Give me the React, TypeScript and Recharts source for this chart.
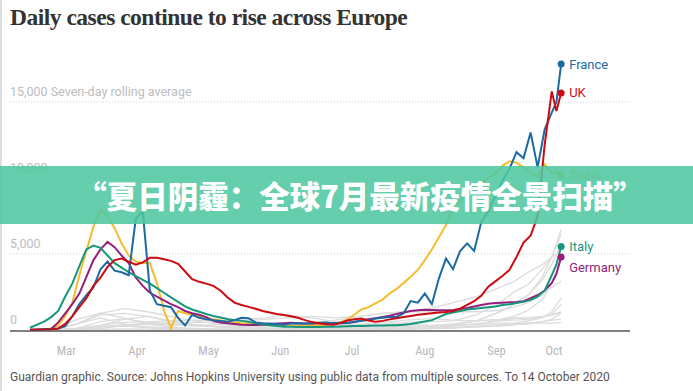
import React from 'react';
import { LineChart, Line, XAxis, YAxis, ReferenceLine } from 'recharts';

// days since 1 March 2020 (day 0 = 1 Mar)
const days = [
  0, 3, 6, 9, 12, 15, 18, 21, 24, 27,
  30, 33, 36, 39, 42, 45, 48, 51, 54, 57,
  60, 63, 66, 69, 72, 75, 78, 81, 84, 87,
  90, 93, 96, 99, 102, 105, 108, 111, 114, 117,
  120, 123, 126, 129, 132, 135, 138, 141, 144, 147,
  150, 153, 156, 159, 162, 165, 168, 171, 174, 177,
  180, 183, 186, 189, 192, 195, 198, 201, 204, 207,
  210, 213, 216, 219, 222, 224, 226,
];

const france = [
  20, 30, 50, 70, 100, 250, 900, 1700, 2300, 2800,
  4000, 4500, 3900, 3800, 3600, 7300, 7800, 2600, 1700, 1600,
  1500, 800, 300, 1000, 800, 700, 650, 600, 550, 650,
  800, 780, 500, 450, 420, 400, 350, 420, 450, 430,
  450, 480, 500, 450, 480, 460, 550, 600, 650, 750,
  800, 850, 860, 1100, 1900, 1800, 2400, 1700, 3400, 4700,
  4000, 5200, 5700, 5200, 7100, 7800, 8800, 9800, 10600, 11700,
  11300, 13000, 10700, 13200, 14300, 15000, 17500,
];

const uk = [
  10, 15, 30, 50, 90, 400, 900, 1500, 2100, 2900,
  3450, 4150, 4600, 4700, 4500, 4300, 4450, 4750, 4750, 4650,
  4550, 4350, 3850, 3350, 3170, 3050, 2900, 2600, 2150, 1800,
  1650, 1520, 1400, 1250, 1150, 1050, 980, 900, 800, 650,
  520, 450, 380, 340, 450, 620, 700, 750, 620, 540,
  600, 700, 780, 850, 920, 1000, 1050, 1100, 1150, 1180,
  1250, 1400, 1650, 1900, 2250, 2850, 3200, 3550, 3950, 4800,
  5750, 6200, 7500, 12200, 15700, 14400, 15600,
];

const spain = [
  10, 20, 40, 100, 300, 900, 1800, 3600, 5200, 6800,
  7900, 7500, 6700, 5700, 4900, 4500, 4400, 4400, 3100, 1300,
  100, 1250, 1100, 1000, 900, 800, 700, 650, 550, 500,
  450, 420, 400, 380, 350, 330, 300, 300, 300, 300,
  300, 320, 350, 420, 500, 700, 1000, 1350, 1500, 1750,
  2000, 2400, 2700, 3100, 3500, 3950, 4600, 5300, 6100, 6900,
  8100, 8500, 8900, 9300, 9700, 10000, 10300, 10800, 11100, 11000,
  10700, 10300, 10100, 10900, 10300, 10400, 10200,
];

const italy = [
  150, 350, 550, 850, 1250, 2200, 3050, 4200, 5300, 5550,
  5400, 4900, 4400, 4100, 3800, 3550, 3300, 3050, 2750, 2450,
  2150, 1850, 1550, 1350, 1200, 1050, 920, 820, 720, 650,
  600, 540, 450, 370, 320, 260, 220, 210, 200, 200,
  190, 200, 210, 220, 230, 250, 260, 270, 280, 290,
  300, 310, 320, 350, 400, 480, 560, 650, 850, 1050,
  1150, 1250, 1350, 1400, 1450, 1500, 1550, 1650, 1700, 1780,
  1850, 1980, 2200, 2600, 3600, 4300, 5500,
];

const germany = [
  0, 10, 30, 60, 500, 1100, 1700, 2400, 3500, 4600,
  5300, 5800, 5450, 4900, 4400, 3450, 2900, 2450, 2200, 1950,
  1700, 1500, 1250, 1100, 1000, 850, 600, 500, 450, 400,
  350, 330, 330, 350, 380, 420, 450, 470, 450, 420,
  430, 450, 450, 460, 450, 460, 520, 620, 700, 780,
  860, 940, 1050, 1150, 1250, 1300, 1330, 1320, 1300, 1300,
  1320, 1380, 1450, 1550, 1650, 1720, 1780, 1800, 1820, 1850,
  1900, 2100, 2300, 2600, 3100, 3700, 4800,
];

// other European countries, drawn in grey
const greyDays = [0, 10, 20, 30, 40, 50, 60, 70, 80, 90, 100, 110, 120, 130, 140, 150, 160, 170, 180, 190, 200, 206, 212, 218, 222, 226];
const belgium = [0, 50, 400, 1100, 1400, 1200, 900, 600, 400, 250, 150, 100, 100, 120, 250, 500, 400, 300, 350, 600, 1200, 1700, 2300, 3300, 4300, 5600];
const netherlands = [0, 20, 400, 1000, 1100, 900, 550, 350, 200, 150, 100, 60, 60, 80, 150, 350, 500, 550, 600, 1000, 1800, 2500, 3000, 4000, 4800, 6300];
const czechia = [0, 5, 80, 250, 250, 150, 80, 60, 60, 50, 50, 80, 150, 150, 150, 200, 250, 250, 400, 600, 1200, 1700, 2300, 3500, 4800, 6600];
const poland = [0, 5, 60, 200, 300, 350, 350, 300, 350, 400, 350, 350, 300, 300, 350, 500, 650, 750, 650, 600, 700, 900, 1300, 2000, 3000, 4600];
const switzerland = [0, 50, 700, 1100, 800, 400, 200, 80, 40, 20, 20, 30, 60, 100, 120, 150, 200, 250, 300, 350, 450, 450, 600, 800, 1200, 2100];
const portugal = [0, 0, 100, 550, 750, 500, 400, 250, 200, 250, 300, 350, 350, 350, 300, 200, 200, 250, 300, 400, 650, 750, 800, 900, 1000, 1700];
const sweden = [0, 5, 100, 300, 500, 550, 600, 650, 600, 700, 800, 1000, 800, 550, 350, 250, 250, 200, 150, 200, 250, 350, 450, 550, 650, 700];
const austria = [0, 20, 400, 800, 400, 150, 60, 40, 40, 40, 40, 40, 60, 100, 100, 120, 130, 150, 250, 400, 600, 650, 700, 850, 1000, 1200];
const ireland = [0, 0, 80, 300, 700, 900, 600, 350, 200, 80, 40, 15, 15, 20, 20, 50, 60, 90, 120, 200, 300, 350, 400, 550, 700, 1100];
const romania = [0, 0, 30, 200, 350, 400, 350, 300, 250, 200, 220, 300, 450, 650, 900, 1100, 1200, 1200, 1200, 1200, 1300, 1500, 1800, 2300, 2800, 3200];
const ukraine = [0, 0, 20, 100, 300, 450, 450, 500, 500, 600, 700, 800, 900, 800, 900, 1100, 1200, 1400, 1800, 2200, 2800, 3200, 3800, 4300, 4800, 5300];
const denmark = [0, 10, 100, 200, 250, 200, 150, 100, 60, 40, 30, 30, 40, 50, 60, 100, 120, 100, 150, 250, 350, 400, 450, 450, 450, 500];
const hungary = [0, 0, 10, 40, 80, 60, 40, 20, 10, 10, 10, 10, 10, 20, 20, 40, 60, 100, 300, 600, 700, 800, 800, 900, 1000, 1100];

const monthStarts = [0, 31, 61, 92, 122, 153, 184, 214];
const monthLabelDays = [15.5, 45.5, 76, 106.5, 137, 168, 198.5, 223];
const monthNames = ['Mar', 'Apr', 'May', 'Jun', 'Jul', 'Aug', 'Sep', 'Oct'];
const yTicks = [0, 5000, 10000, 15000];

const highlighted = [
  { key: 'spain', name: 'Spain', values: spain, color: '#f5bd2e', dy: 0 },
  { key: 'germany', name: 'Germany', values: germany, color: '#951f7c', dy: 10 },
  { key: 'italy', name: 'Italy', values: italy, color: '#16977c', dy: 0 },
  { key: 'france', name: 'France', values: france, color: '#1b6aa3', dy: 0 },
  { key: 'uk', name: 'UK', values: uk, color: '#cc0a12', dy: 0 },
];

const greys: Record<string, number[]> = {
  belgium, netherlands, czechia, poland, switzerland, portugal, sweden,
  austria, ireland, romania, ukraine, denmark, hungary,
};

const allDays = Array.from(new Set([...days, ...greyDays])).sort((a, b) => a - b);
const rows = allDays.map((d) => {
  const row: Record<string, number | null> = { day: d };
  const mi = days.indexOf(d);
  const gi = greyDays.indexOf(d);
  highlighted.forEach((s) => { row[s.key] = mi >= 0 ? s.values[mi] : null; });
  Object.keys(greys).forEach((k) => { row[k] = gi >= 0 ? greys[k][gi] : null; });
  return row;
});
const lastIndex = rows.length - 1;

const sans = 'Roboto, "Noto Sans", sans-serif';
const narrow = '"Liberation Sans Narrow", "Roboto Condensed", Roboto, sans-serif';
const xDomain: [number, number] = [-8.5, 255.3];

function YTick(props: any) {
  const { x, y, payload } = props;
  const v = payload.value as number;
  const label = v === 15000 ? '15,000 Seven-day rolling average' : v.toLocaleString('en-US');
  return (
    <text x={x} y={y - 6} textAnchor="start" fill="#bdbdbd" fontSize={12.5} fontFamily={sans}>
      {label}
    </text>
  );
}

function MonthTick(props: any) {
  const { x, y, index } = props;
  return (
    <text x={x} y={y + 25} textAnchor="middle" fill="#b8b8b8" fontSize={12.5} fontFamily={narrow}>
      {monthNames[index]}
    </text>
  );
}

function endDot(s: typeof highlighted[number]) {
  return (props: any) => {
    const { cx, cy, index } = props;
    if (index !== lastIndex || cy == null) return <g key={`${s.key}-${index}`} />;
    return (
      <g key={`${s.key}-end`}>
        <circle cx={cx} cy={cy} r={3.5} fill={s.color} />
        <text x={cx + 8} y={cy + s.dy + 4.5} fill={s.color} fontSize={13} fontFamily={sans}>
          {s.name}
        </text>
      </g>
    );
  };
}

export default function App() {
  return (
    <div style={{ position: 'absolute', left: 0, top: 0, width: 693, height: 391, background: '#fff', overflow: 'hidden' }}>
      <div style={{ position: 'absolute', left: 0, top: 0, width: 2, height: 391, background: '#dedede' }} />
      <div style={{
        position: 'absolute', left: 10, top: 4, fontFamily: '"Liberation Serif", serif', fontWeight: 700,
        fontSize: 23.5, color: '#333', letterSpacing: -0.5, whiteSpace: 'nowrap',
      }}>
        Daily cases continue to rise across Europe
      </div>

      <div style={{ position: 'absolute', left: 0, top: 0 }}>
        <LineChart width={693} height={391} data={rows} margin={{ top: 56.4, right: 63, bottom: 59, left: 9 }}>
          {yTicks.slice(1).map((v) => (
            <ReferenceLine key={v} xAxisId="t" y={v} stroke="#d2d2d2" strokeDasharray="1 2" />
          ))}
          <XAxis xAxisId="t" type="number" dataKey="day" domain={xDomain} allowDataOverflow ticks={monthStarts}
            tick={false} tickSize={6} tickLine={{ stroke: '#cfcfcf' }} axisLine={{ stroke: '#555', strokeWidth: 1.5 }}
            height={1} />
          <XAxis xAxisId="l" type="number" dataKey="day" domain={xDomain} allowDataOverflow ticks={monthLabelDays}
            tick={<MonthTick />} tickLine={false} axisLine={false} tickSize={0} tickMargin={0} height={1} />
          <YAxis type="number" domain={[0, 18000]} ticks={yTicks} width={1} tick={<YTick />} axisLine={false}
            tickLine={false} tickSize={0} tickMargin={0} />
          {Object.keys(greys).map((k) => (
            <Line key={k} xAxisId="t" dataKey={k} stroke="#dcdcdc" strokeWidth={1.3} dot={false}
              connectNulls isAnimationActive={false} />
          ))}
          {highlighted.map((s) => (
            <Line key={s.key} xAxisId="t" dataKey={s.key} stroke={s.color} strokeWidth={2} dot={endDot(s)}
              activeDot={false} connectNulls isAnimationActive={false} />
          ))}
        </LineChart>
      </div>

      <div style={{
        position: 'absolute', left: 0, top: 166, width: 693, height: 58, background: 'rgba(78, 199, 160, 0.87)',
        display: 'flex', alignItems: 'center', justifyContent: 'center',
      }}>
        <span style={{
          color: '#fff', fontFamily: '"Noto Sans CJK SC", sans-serif', fontWeight: 900, fontSize: 30.5,
          marginLeft: 27, whiteSpace: 'nowrap',
        }}>
          “夏日阴霾：全球7月最新疫情全景扫描”
        </span>
      </div>

      <div style={{
        position: 'absolute', left: 10, top: 370, fontFamily: sans, fontSize: 12, color: '#555', whiteSpace: 'nowrap',
      }}>
        Guardian graphic. Source: Johns Hopkins University using public data from multiple sources. To 14 October 2020
      </div>
    </div>
  );
}
